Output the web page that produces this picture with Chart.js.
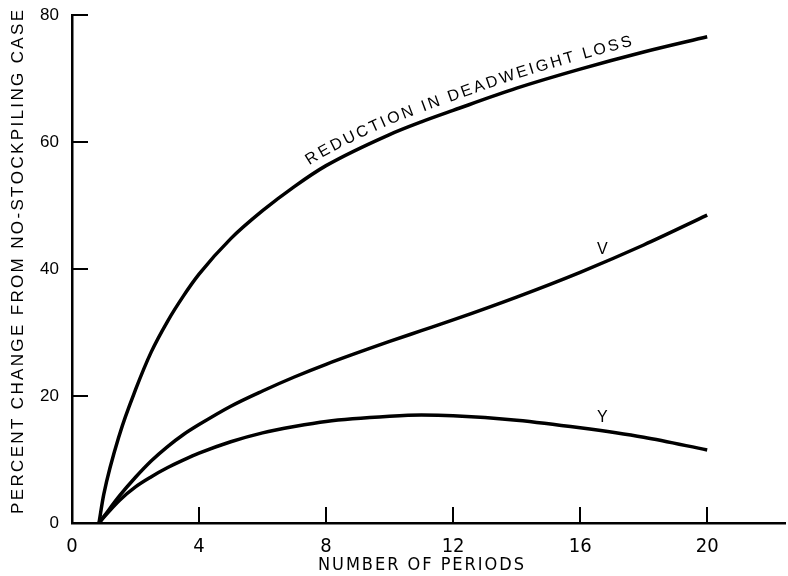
<!DOCTYPE html>
<html>
<head>
<meta charset="utf-8">
<script src="https://cdn.jsdelivr.net/npm/chart.js@4/dist/chart.umd.min.js"></script>
<style>
  html, body { margin: 0; padding: 0; background: #fff; }
  #wrap { width: 788px; height: 576px; }
</style>
</head>
<body>
<div id="wrap"><canvas id="chart" width="788" height="576"></canvas></div>
<script>
// number of periods (x) at which the curves were read
const periods    = [0.85, 1, 1.5, 2, 2.5, 3, 3.5, 4, 5, 6, 7, 8, 10, 11, 12, 14, 16, 18, 20];
// percent change from no-stockpiling case
const deadweight = [0, 4.5, 14, 21, 27, 31.7, 35.7, 39.2, 44.8, 49.2, 53, 56.3, 61.2, 63.2, 65, 68.5, 71.5, 74.2, 76.6];
const vValues    = [0, 1, 4.3, 7.2, 9.8, 12, 13.9, 15.5, 18.4, 20.8, 23, 25, 28.6, 30.3, 32, 35.6, 39.5, 43.8, 48.5];
const yValues    = [0, 0.9, 3.6, 5.7, 7.3, 8.7, 9.9, 11, 12.8, 14.2, 15.2, 16, 16.8, 17, 16.9, 16.2, 15, 13.5, 11.5];

const xTicks = [0, 4, 8, 12, 16, 20];
const yTicks = [0, 20, 40, 60, 80];

const xTitle = "NUMBER OF PERIODS";
const yTitle = "PERCENT CHANGE FROM NO-STOCKPILING CASE";
const curveTitle = "REDUCTION IN DEADWEIGHT LOSS";
const pointLabels = [
  { text: "V", x: 16.7, y: 43.1 },
  { text: "Y", x: 16.7, y: 16.6 },
];

const pairs = (ys) => periods.map((p, i) => ({ x: p, y: ys[i] }));

const SANS = "'Liberation Sans', 'DejaVu Sans', sans-serif";
const NARROW = "'Liberation Sans Narrow', 'DejaVu Sans Condensed', sans-serif";

// dense polyline of the drawn (bezier) line of a dataset
function curvePolyline(chart, index) {
  const pts = chart.getDatasetMeta(index).data;
  const out = [[pts[0].x, pts[0].y]];
  for (let i = 1; i < pts.length; i++) {
    const a = pts[i - 1], b = pts[i];
    const c1x = a.cp2x ?? a.x, c1y = a.cp2y ?? a.y;
    const c2x = b.cp1x ?? b.x, c2y = b.cp1y ?? b.y;
    for (let k = 1; k <= 24; k++) {
      const t = k / 24, u = 1 - t;
      out.push([
        u * u * u * a.x + 3 * u * u * t * c1x + 3 * u * t * t * c2x + t * t * t * b.x,
        u * u * u * a.y + 3 * u * u * t * c1y + 3 * u * t * t * c2y + t * t * t * b.y,
      ]);
    }
  }
  return out;
}

// spaced text, centred on (cx, cy)
function spacedText(ctx, text, cx, cy, width) {
  const ws = [...text].map((ch) => ctx.measureText(ch).width);
  const total = ws.reduce((a, b) => a + b, 0);
  const gap = (width - total) / (text.length - 1);
  let x = cx - width / 2;
  [...text].forEach((ch, i) => {
    ctx.fillText(ch, x + ws[i] / 2, cy);
    x += ws[i] + gap;
  });
}

const extras = {
  id: "extras",
  beforeDatasetsDraw(chart) {
    const { ctx, scales: { x, y } } = chart;
    ctx.save();
    ctx.strokeStyle = "#000";
    ctx.lineWidth = 2;
    // tick marks point into the plot
    xTicks.slice(1).forEach((v) => {
      const px = Math.round(x.getPixelForValue(v));
      ctx.beginPath();
      ctx.moveTo(px, y.bottom);
      ctx.lineTo(px, y.bottom - 16);
      ctx.stroke();
    });
    yTicks.slice(1).forEach((v) => {
      const py = Math.round(y.getPixelForValue(v));
      ctx.beginPath();
      ctx.moveTo(x.left, py);
      ctx.lineTo(x.left + 16, py);
      ctx.stroke();
    });
    // axis titles
    ctx.fillStyle = "#000";
    ctx.textAlign = "center";
    ctx.textBaseline = "middle";
    ctx.font = "18px " + NARROW;
    spacedText(ctx, xTitle, 421, 565, 206);
    ctx.translate(18, 262);
    ctx.rotate(-Math.PI / 2);
    ctx.font = "17px " + SANS;
    spacedText(ctx, yTitle, 0, 0, 504);
    ctx.restore();
  },
  afterDatasetsDraw(chart) {
    const { ctx, scales: { x, y } } = chart;
    ctx.save();
    ctx.fillStyle = "#000";
    ctx.textAlign = "center";
    ctx.textBaseline = "middle";
    ctx.font = "16px " + SANS;
    pointLabels.forEach((l) => {
      ctx.fillText(l.text, x.getPixelForValue(l.x), y.getPixelForValue(l.y));
    });

    // curve title set along the top curve
    const line = curvePolyline(chart, 0);
    const cum = [0];
    for (let i = 1; i < line.length; i++) {
      cum.push(cum[i - 1] + Math.hypot(line[i][0] - line[i - 1][0], line[i][1] - line[i - 1][1]));
    }
    const at = (s) => {
      let i = 1;
      while (i < line.length - 1 && cum[i] < s) i++;
      const t = (s - cum[i - 1]) / (cum[i] - cum[i - 1] || 1);
      const p = line[i - 1], q = line[i];
      return {
        x: p[0] + (q[0] - p[0]) * t,
        y: p[1] + (q[1] - p[1]) * t,
        a: Math.atan2(q[1] - p[1], q[0] - p[0]),
      };
    };
    const startPx = 313;
    let s0 = 0;
    for (let i = 0; i < line.length; i++) {
      if (line[i][0] >= startPx) { s0 = cum[i]; break; }
    }
    ctx.textBaseline = "alphabetic";
    const chars = [...curveTitle];
    const ws = chars.map((ch) => ctx.measureText(ch).width);
    const gap = (343 - ws.reduce((a, b) => a + b, 0)) / (chars.length - 1);
    let s = s0;
    chars.forEach((ch, i) => {
      const p = at(s + ws[i] / 2);
      const d = 9;
      ctx.save();
      ctx.translate(p.x + Math.sin(p.a) * d, p.y - Math.cos(p.a) * d);
      ctx.rotate(p.a);
      ctx.fillText(ch, 0, 0);
      ctx.restore();
      s += ws[i] + gap;
    });
    ctx.restore();
  },
};

const lineStyle = {
  borderColor: "#000",
  borderWidth: 3.5,
  pointRadius: 0,
  fill: false,
  cubicInterpolationMode: "monotone",
};

new Chart(document.getElementById("chart"), {
  type: "line",
  data: {
    datasets: [
      { label: "Reduction in deadweight loss", data: pairs(deadweight), ...lineStyle },
      { label: "V", data: pairs(vValues), ...lineStyle },
      { label: "Y", data: pairs(yValues), ...lineStyle },
    ],
  },
  options: {
    responsive: false,
    animation: false,
    layout: { padding: { top: 6, right: 3, left: 0, bottom: 0 } },
    plugins: { legend: { display: false }, tooltip: { enabled: false } },
    scales: {
      x: {
        type: "linear",
        min: 0,
        max: 22.45,
        afterBuildTicks: (s) => { s.ticks = xTicks.map((v) => ({ value: v })); },
        afterFit: (s) => { s.height = 53; },
        grid: { display: false },
        border: { display: true, color: "#000", width: 2.5 },
        ticks: { color: "#000", padding: 4, maxRotation: 0, font: { family: NARROW, size: 20 } },
      },
      y: {
        min: 0,
        max: 80,
        afterBuildTicks: (s) => { s.ticks = yTicks.map((v) => ({ value: v })); },
        afterFit: (s) => { s.width = 72; },
        grid: { display: false },
        border: { display: true, color: "#000", width: 2.5 },
        ticks: { color: "#000", padding: 5, font: { family: SANS, size: 17 } },
      },
    },
  },
  plugins: [extras],
});
</script>
</body>
</html>
